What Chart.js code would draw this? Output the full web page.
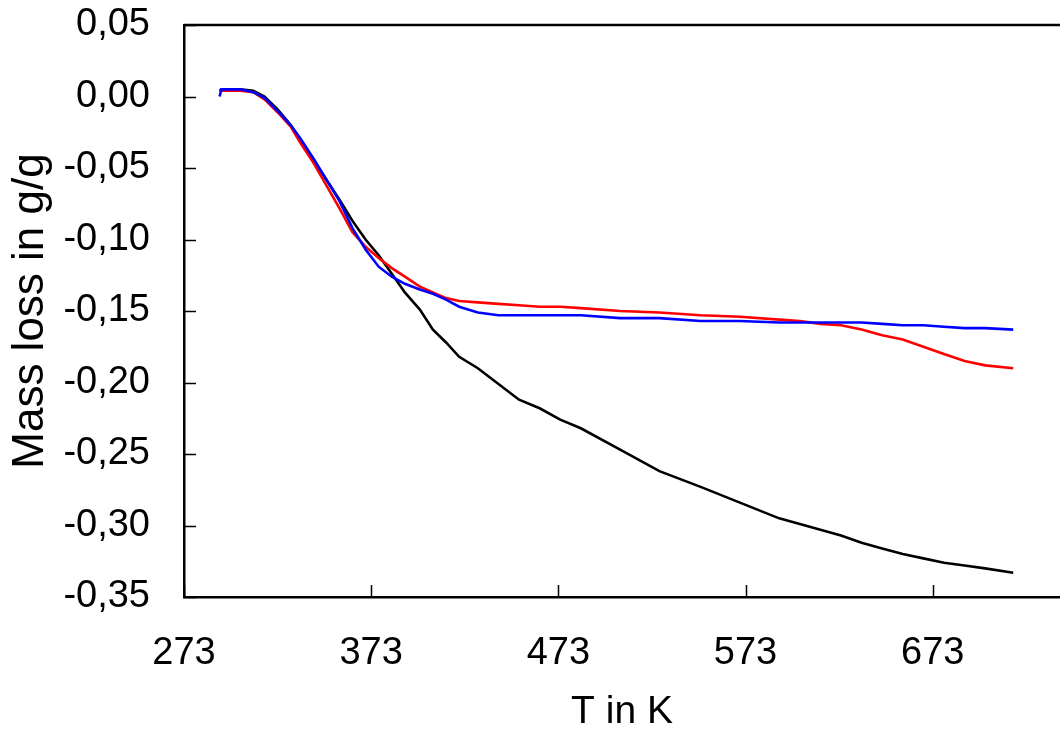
<!DOCTYPE html>
<html>
<head>
<meta charset="utf-8">
<title>Mass loss</title>
<script src="https://cdn.jsdelivr.net/npm/chart.js@4/dist/chart.umd.min.js"></script>
<style>
  html, body { margin: 0; padding: 0; background: #fff; overflow: hidden; }
</style>
</head>
<body>
<canvas id="massChart" width="1060" height="730"></canvas>
<script>
// temperatures in K, shared by all three curves
const temps = [292, 293, 297, 303, 310, 316, 323, 330, 335, 342, 349, 356, 363, 370, 377, 384, 391, 399, 406, 413, 420, 430, 441, 452, 463, 474, 485, 506, 527, 549, 570, 591, 602, 613, 624, 635, 646, 657, 668, 679, 690, 701, 716];

const blackLoss = [0.004, 0.005, 0.005, 0.005, 0.004, 0.000, -0.009, -0.020, -0.030, -0.044, -0.058, -0.072, -0.087, -0.100, -0.111, -0.124, -0.137, -0.149, -0.163, -0.172, -0.182, -0.190, -0.201, -0.212, -0.218, -0.226, -0.232, -0.247, -0.262, -0.273, -0.284, -0.295, -0.299, -0.303, -0.307, -0.312, -0.316, -0.320, -0.323, -0.326, -0.328, -0.330, -0.333];
const redLoss = [0.004, 0.004, 0.004, 0.004, 0.003, -0.002, -0.011, -0.021, -0.032, -0.046, -0.062, -0.078, -0.095, -0.105, -0.113, -0.120, -0.126, -0.133, -0.137, -0.141, -0.143, -0.144, -0.145, -0.146, -0.147, -0.147, -0.148, -0.150, -0.151, -0.153, -0.154, -0.156, -0.157, -0.159, -0.160, -0.163, -0.167, -0.170, -0.175, -0.180, -0.185, -0.188, -0.190];
const blueLoss = [0.000, 0.005, 0.005, 0.005, 0.003, -0.001, -0.010, -0.020, -0.029, -0.043, -0.058, -0.073, -0.092, -0.107, -0.119, -0.126, -0.131, -0.135, -0.138, -0.142, -0.147, -0.151, -0.153, -0.153, -0.153, -0.153, -0.153, -0.155, -0.155, -0.157, -0.157, -0.158, -0.158, -0.158, -0.158, -0.158, -0.159, -0.160, -0.160, -0.161, -0.162, -0.162, -0.163];

const xTicks = [273, 373, 473, 573, 673];
const yTicks = [0.05, 0.00, -0.05, -0.10, -0.15, -0.20, -0.25, -0.30, -0.35];

const xMin = 273, xMax = 741;
const yMin = -0.35, yMax = 0.05;

const FONT = "'Liberation Sans', Arial, sans-serif";

function pts(vals) {
    return temps.map((t, i) => ({x: t, y: vals[i]}));
}

// top border + inward tick marks like the original plot
const frame = {
    id: 'frame',
    afterDraw(chart) {
        const {ctx, chartArea} = chart;
        const xs = chart.scales.x, ys = chart.scales.y;
        ctx.save();
        ctx.strokeStyle = '#000';
        ctx.lineWidth = 2.5;
        ctx.beginPath();
        ctx.moveTo(chartArea.left, chartArea.top);
        ctx.lineTo(chartArea.right, chartArea.top);
        ctx.stroke();
        ctx.lineWidth = 1.5;
        ctx.beginPath();
        yTicks.forEach(v => {
            const y = Math.round(ys.getPixelForValue(v)) + 0.5;
            ctx.moveTo(chartArea.left, y);
            ctx.lineTo(chartArea.left + 12, y);
        });
        xTicks.forEach(v => {
            const x = Math.round(xs.getPixelForValue(v)) + 0.5;
            ctx.moveTo(x, chartArea.bottom);
            ctx.lineTo(x, chartArea.bottom - 12);
        });
        ctx.stroke();
        ctx.restore();
    }
};

const line = (vals, color, order) => ({
    data: pts(vals),
    borderColor: color,
    backgroundColor: color,
    borderWidth: 2.6,
    pointRadius: 0,
    tension: 0,
    fill: false,
    order: order
});

new Chart(document.getElementById('massChart'), {
    type: 'line',
    data: {
        datasets: [
            line(blackLoss, '#000000', 3),
            line(redLoss, '#ff0000', 2),
            line(blueLoss, '#0000ff', 1)
        ]
    },
    options: {
        responsive: false,
        animation: false,
        devicePixelRatio: 1,
        layout: {padding: {top: 25, right: 0, left: 0, bottom: 0}},
        plugins: {legend: {display: false}, tooltip: {enabled: false}},
        scales: {
            x: {
                type: 'linear',
                min: xMin,
                max: xMax,
                afterBuildTicks: s => { s.ticks = xTicks.map(v => ({value: v})); },
                afterFit: s => { s.height = 133; s.paddingLeft = 0; s.paddingRight = 0; },
                grid: {drawOnChartArea: false, drawTicks: false},
                border: {display: true, color: '#000', width: 2.5},
                ticks: {
                    color: '#000',
                    padding: 38,
                    maxRotation: 0,
                    font: {family: FONT, size: 38, lineHeight: 1},
                    callback: v => String(v)
                },
                title: {
                    display: true,
                    text: 'T in K',
                    color: '#000',
                    padding: {top: 0, bottom: -2},
                    font: {family: FONT, size: 39, lineHeight: 1}
                }
            },
            y: {
                type: 'linear',
                min: yMin,
                max: yMax,
                afterBuildTicks: s => { s.ticks = yTicks.map(v => ({value: v})); },
                afterFit: s => { s.width = 184; s.paddingTop = 0; s.paddingBottom = 0; },
                grid: {drawOnChartArea: false, drawTicks: false},
                border: {display: true, color: '#000', width: 2.5},
                ticks: {
                    color: '#000',
                    padding: 34,
                    font: {family: FONT, size: 38, lineHeight: 1},
                    callback: v => v.toFixed(2).replace('.', ',')
                },
                title: {
                    display: true,
                    text: 'Mass loss in g/g',
                    color: '#000',
                    padding: {top: 9, bottom: 0},
                    font: {family: FONT, size: 44, lineHeight: 1}
                }
            }
        }
    },
    plugins: [frame]
});
</script>
</body>
</html>
